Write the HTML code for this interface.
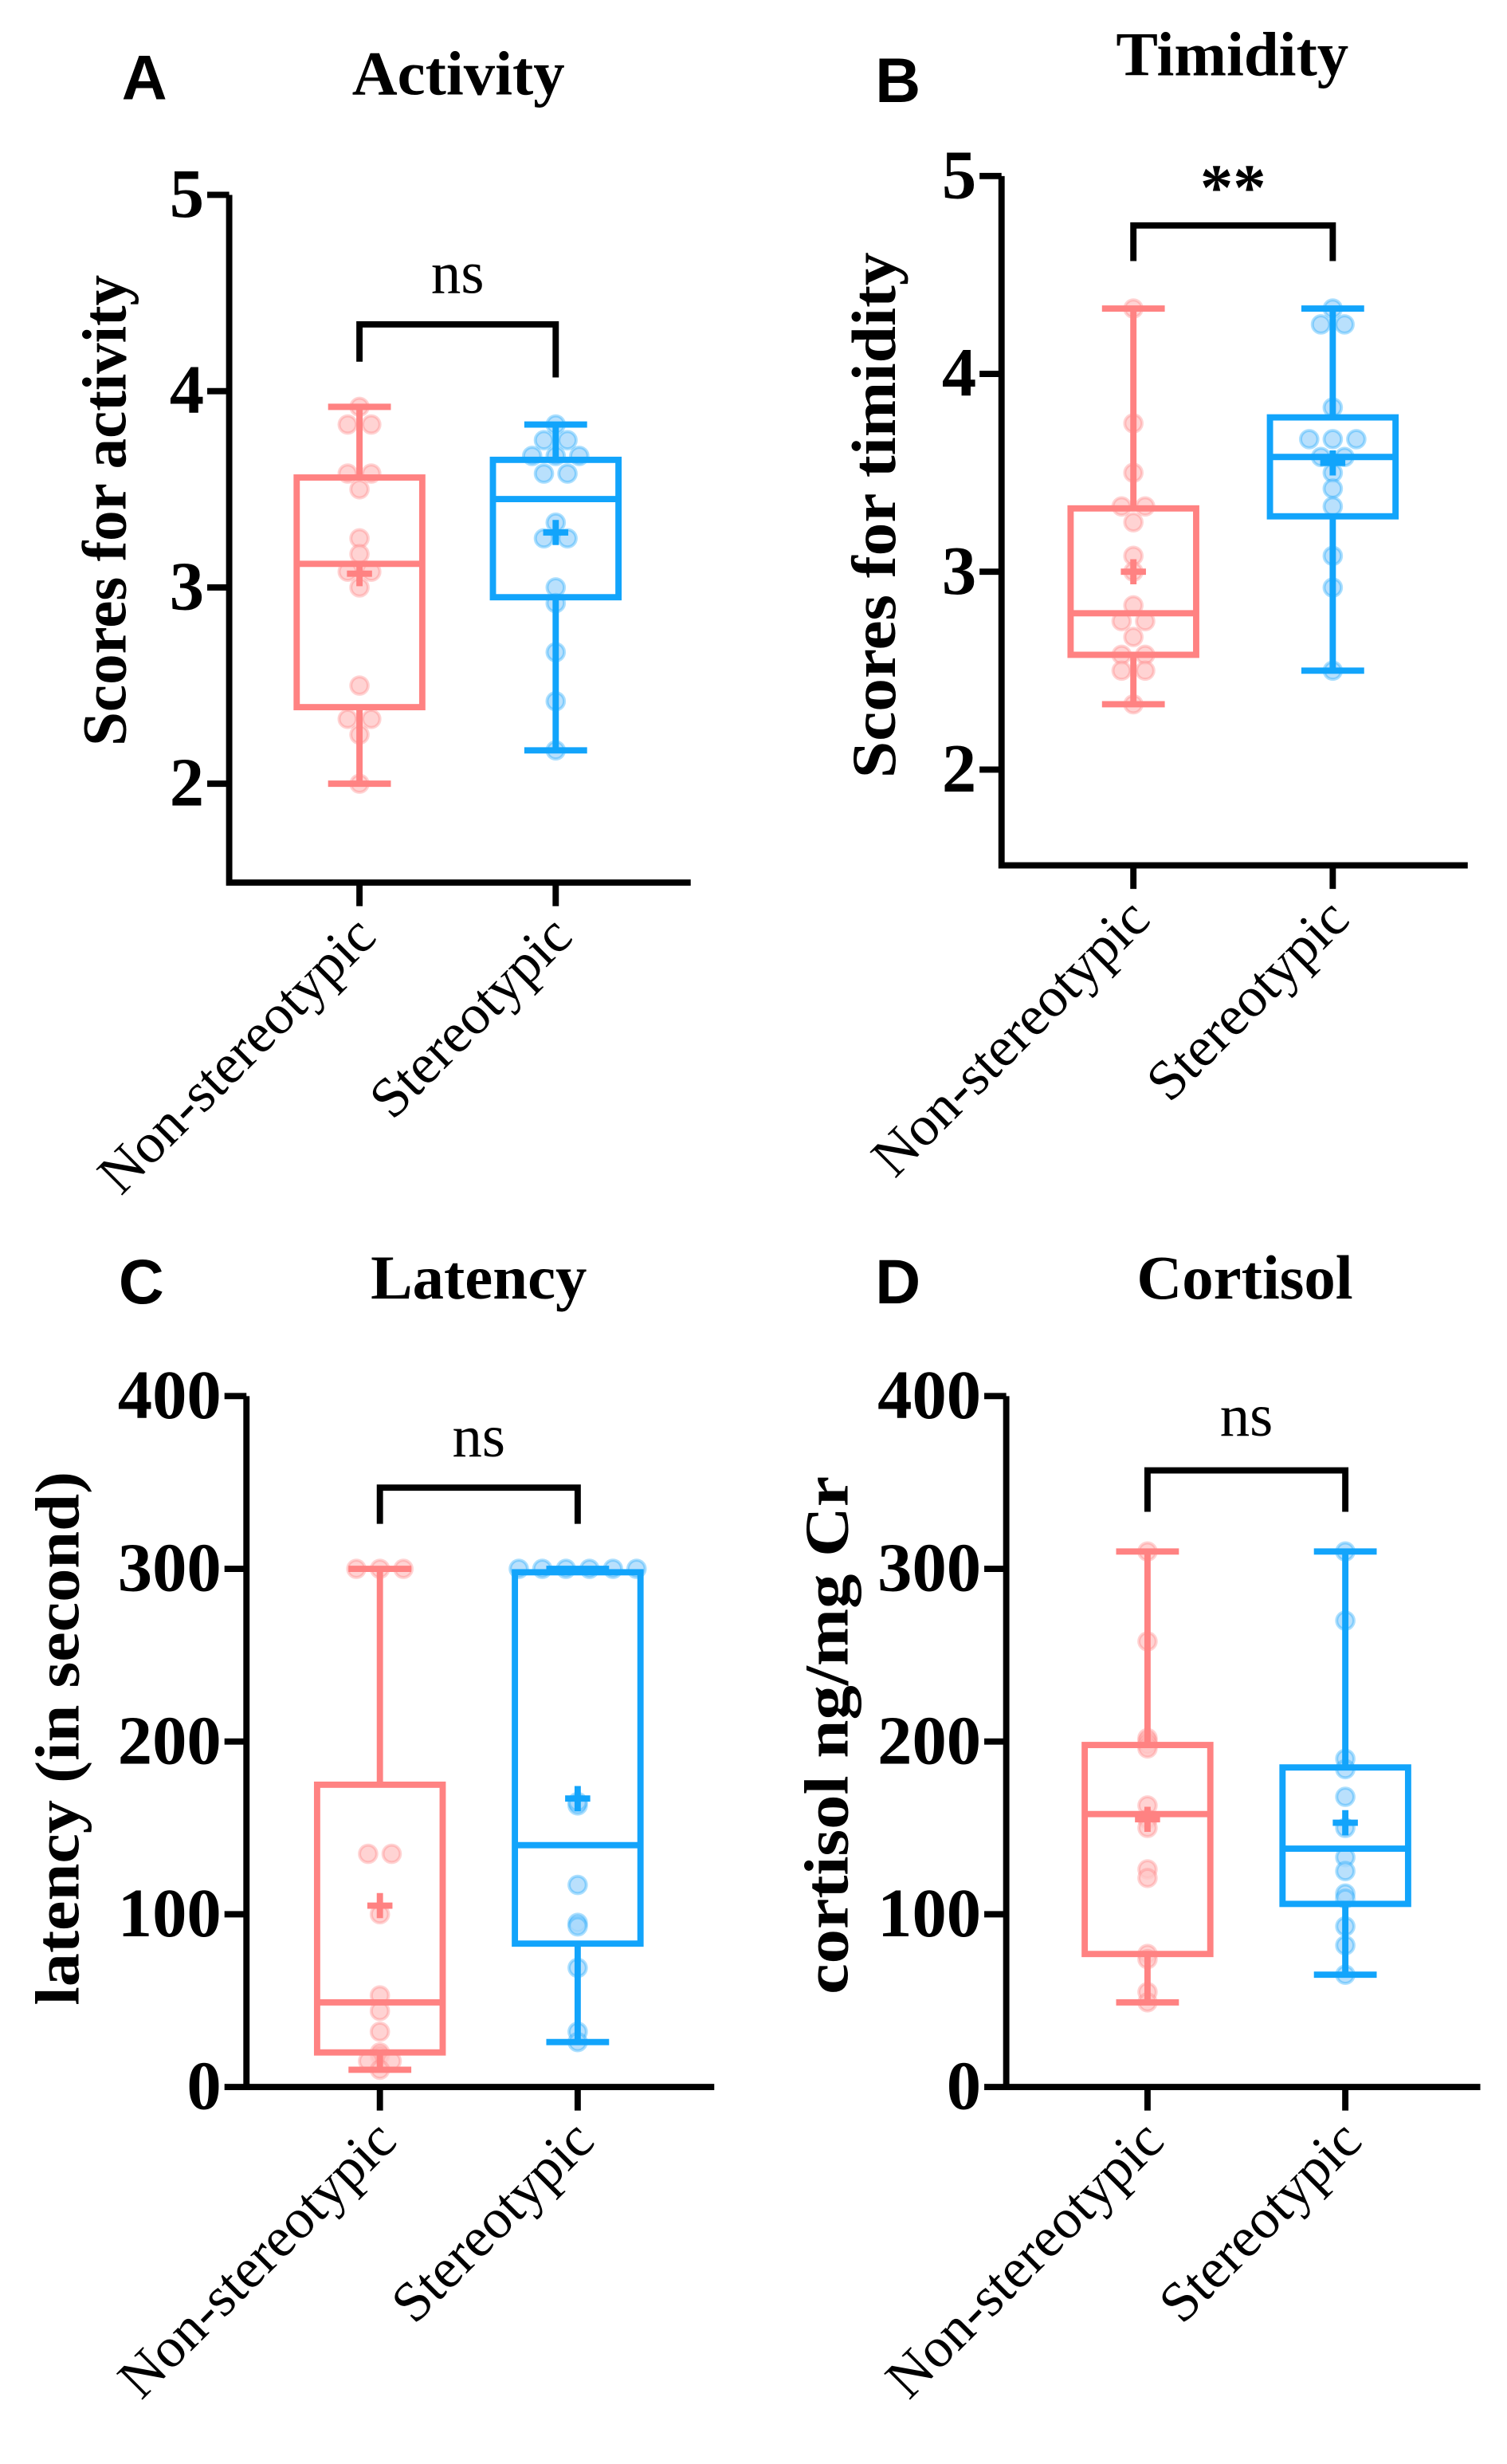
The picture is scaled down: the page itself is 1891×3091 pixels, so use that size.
<!DOCTYPE html>
<html><head><meta charset="utf-8"><style>
html,body{margin:0;padding:0;background:#fff}
svg{display:block}
text{font-family:"Liberation Serif",serif}
text.sans{font-family:"Liberation Sans",sans-serif}
</style></head><body>
<svg id="fig" width="1891" height="3091" viewBox="0 0 960 1569" xmlns="http://www.w3.org/2000/svg"></svg>
<script>
// Panel A - Activity
const actNonPts = [3.92,3.83,3.83,3.58,3.58,3.5,3.25,3.17,3.08,3.08,3.0,2.5,2.33,2.33,2.25,2.0];
const actNonBox = [2.0,2.39,3.12,3.56,3.92]; const actNonMean = 3.07;
const actStPts = [3.83,3.75,3.75,3.67,3.67,3.67,3.58,3.58,3.33,3.25,3.25,3.0,2.92,2.67,2.42,2.17];
const actStBox = [2.17,2.95,3.45,3.65,3.83]; const actStMean = 3.28;
// Panel B - Timidity
const timNonPts = [4.33,3.75,3.5,3.33,3.33,3.25,3.08,3.0,2.83,2.75,2.75,2.67,2.58,2.58,2.5,2.5,2.33];
const timNonBox = [2.33,2.58,2.79,3.32,4.33]; const timNonMean = 3.0;
const timStPts = [4.33,4.25,4.25,3.83,3.67,3.67,3.67,3.58,3.58,3.5,3.42,3.33,3.08,2.92,2.5];
const timStBox = [2.5,3.28,3.58,3.78,4.33]; const timStMean = 3.55;
// Panel C - Latency
const latNonPts = [300,300,300,135,135,100,53,44,32,20,18,15,15,10];
const latNonBox = [10,20,49,175,300]; const latNonMean = 105;
const latStPts = [300,300,300,300,300,300,163,165,117,95,93,69,32,26];
const latStBox = [26,83,140,298,300]; const latStMean = 167;
// Panel D - Cortisol
const corNonPts = [310,258,202,200,198,196,163,155,150,126,121,77,74,55,49];
const corNonBox = [49,77,158,198,310]; const corNonMean = 155;
const corStPts = [310,270,190,184,168,150,133,125,112,109,93,82,65];
const corStBox = [65,106,138,185,310]; const corStMean = 153;
const categories = ["Non-stereotypic","Stereotypic"];
const ticksA = [2,3,4,5], ticksC = [0,100,200,300,400];

const NS="http://www.w3.org/2000/svg", svg=document.getElementById('fig');
function mk(tag,attrs,parent,txt){const e=document.createElementNS(NS,tag);for(const k in attrs)e.setAttribute(k,attrs[k]);if(txt!==undefined)e.textContent=txt;(parent||svg).appendChild(e);return e;}

function panel(o){
  const g=mk('g',{});
  
  
  const y=v=>o.y0-(v-o.vmin)/(o.vmax-o.vmin)*(o.y0-o.y1);
  const L=mk('text',{class:'sans',x:o.lx,y:o.ly,'font-weight':'bold','font-size':40,'text-anchor':'middle'},g,o.id);
   
  const T=mk('text',{x:o.tx,y:o.ty,'font-weight':'bold','font-size':40,'text-anchor':'middle'},g,o.title);
   
  const YL=mk('text',{transform:`translate(${o.ylx},${o.yly}) rotate(-90)`,'font-weight':'bold','font-size':40,'text-anchor':'middle',textLength:o.ylLen,lengthAdjust:'spacingAndGlyphs'},g,o.ylabel);
   
  const ax=mk('path',{d:`M${o.ax},${y(o.ticks[o.ticks.length-1])}V${o.axB}H${o.axR}`,stroke:'#000','stroke-width':4,fill:'none'},g);
   
  o.ticks.forEach(t=>{
    const tk=mk('line',{x1:o.ax-14,x2:o.ax,y1:y(t),y2:y(t),stroke:'#000','stroke-width':4},g);
     
    const tl=mk('text',{x:o.ax-16,y:y(t)+14,'font-weight':'bold','font-size':44,'text-anchor':'end'},g,String(t));
     
  });
  const groups=[{pts:o.nonPts,box:o.nonBox,mean:o.nonMean,col:'#ff8282',pf:'#ffc8c8',x:o.cx[0]},
                {pts:o.stPts,box:o.stBox,mean:o.stMean,col:'#12a4fb',pf:'#a8d8fb',x:o.cx[1]}];
  groups.forEach((gr,i)=>{
    const tk=mk('line',{x1:gr.x,x2:gr.x,y1:o.axB,y2:o.axB+15,stroke:'#000','stroke-width':4},g);
     
    const xl=mk('text',{transform:`translate(${gr.x+12},${o.axB+36}) rotate(-45)`,'font-size':36,'text-anchor':'end'},g,categories[i]);
     
    const counts={};gr.pts.forEach(v=>counts[v]=(counts[v]||0)+1);
    const used={};
    gr.pts.forEach(v=>{
      const n=counts[v],k=used[v]=(used[v]||0);used[v]++;
      const dx=(k-(n-1)/2)*15;
      const c=mk('circle',{cx:gr.x+dx,cy:y(v),r:5.5,fill:gr.pf,stroke:gr.col,'stroke-opacity':0.35,'stroke-width':2,'fill-opacity':0.8},g);
       
    });
    const b=gr.box,sw=4;
    const wh=mk('path',{d:`M${gr.x},${y(b[0])}V${y(b[1])}M${gr.x},${y(b[3])}V${y(b[4])}M${gr.x-20},${y(b[0])}H${gr.x+20}M${gr.x-20},${y(b[4])}H${gr.x+20}`,stroke:gr.col,'stroke-width':sw,fill:'none'},g);
     
    const bx=mk('rect',{x:gr.x-40,y:y(b[3]),width:80,height:y(b[1])-y(b[3]),stroke:gr.col,'stroke-width':sw,fill:'none'},g);
     
    const md=mk('line',{x1:gr.x-40,x2:gr.x+40,y1:y(b[2]),y2:y(b[2]),stroke:gr.col,'stroke-width':sw},g);
     
    const mn=mk('path',{d:`M${gr.x-8},${y(gr.mean)}H${gr.x+8}M${gr.x},${y(gr.mean)-8}V${y(gr.mean)+8}`,stroke:gr.col,'stroke-width':4},g);
     
  });
  const br=mk('path',{d:`M${o.cx[0]},${y(o.brL)}V${y(o.br)}H${o.cx[1]}V${y(o.brR)}`,stroke:'#000','stroke-width':4,fill:'none'},g);
   
  const sg=mk('text',{x:(o.cx[0]+o.cx[1])/2,y:y(o.br)-o.sigOff,'font-size':o.sig=='**'?42:38,'font-weight':o.sig=='**'?'bold':'normal','text-anchor':'middle'},g,o.sig);
   
}

panel({id:'A',title:'Activity',lx:92,ly:63,tx:292,ty:60,ylabel:'Scores for activity',ylx:80,yly:325,ylLen:300,
  ax:146,axB:562,axR:440,vmin:2,vmax:5,y0:499,y1:124,ticks:ticksA,cx:[229,354],
  nonPts:actNonPts,nonBox:actNonBox,nonMean:actNonMean,stPts:actStPts,stBox:actStBox,stMean:actStMean,
  br:4.34,brL:4.15,brR:4.07,sig:'ns',sigOff:20});
panel({id:'B',title:'Timidity',lx:572,ly:65,tx:785,ty:48,ylabel:'Scores for timidity',ylx:570,yly:328,ylLen:335,
  ax:638,axB:551,axR:935,vmin:2,vmax:5,y0:490,y1:112,ticks:ticksA,cx:[722,849],
  nonPts:timNonPts,nonBox:timNonBox,nonMean:timNonMean,stPts:timStPts,stBox:timStBox,stMean:timStMean,
  br:4.75,brL:4.57,brR:4.57,sig:'**',sigOff:10});
panel({id:'C',title:'Latency',lx:90,ly:830,tx:305,ty:827,ylabel:'latency (in second)',ylx:50,yly:1107,ylLen:340,
  ax:157,axB:1329,axR:455,vmin:0,vmax:400,y0:1329,y1:889,ticks:ticksC,cx:[242,368],
  nonPts:latNonPts,nonBox:latNonBox,nonMean:latNonMean,stPts:latStPts,stBox:latStBox,stMean:latStMean,
  br:347,brL:326,brR:326,sig:'ns',sigOff:20});
panel({id:'D',title:'Cortisol',lx:572,ly:830,tx:793,ty:827,ylabel:'cortisol  ng/mg Cr',ylx:540,yly:1105,ylLen:330,
  ax:641,axB:1329,axR:943,vmin:0,vmax:400,y0:1329,y1:889,ticks:ticksC,cx:[731,857],
  nonPts:corNonPts,nonBox:corNonBox,nonMean:corNonMean,stPts:corStPts,stBox:corStBox,stMean:corStMean,
  br:357,brL:333,brR:333,sig:'ns',sigOff:22});
</script>
</body></html>
